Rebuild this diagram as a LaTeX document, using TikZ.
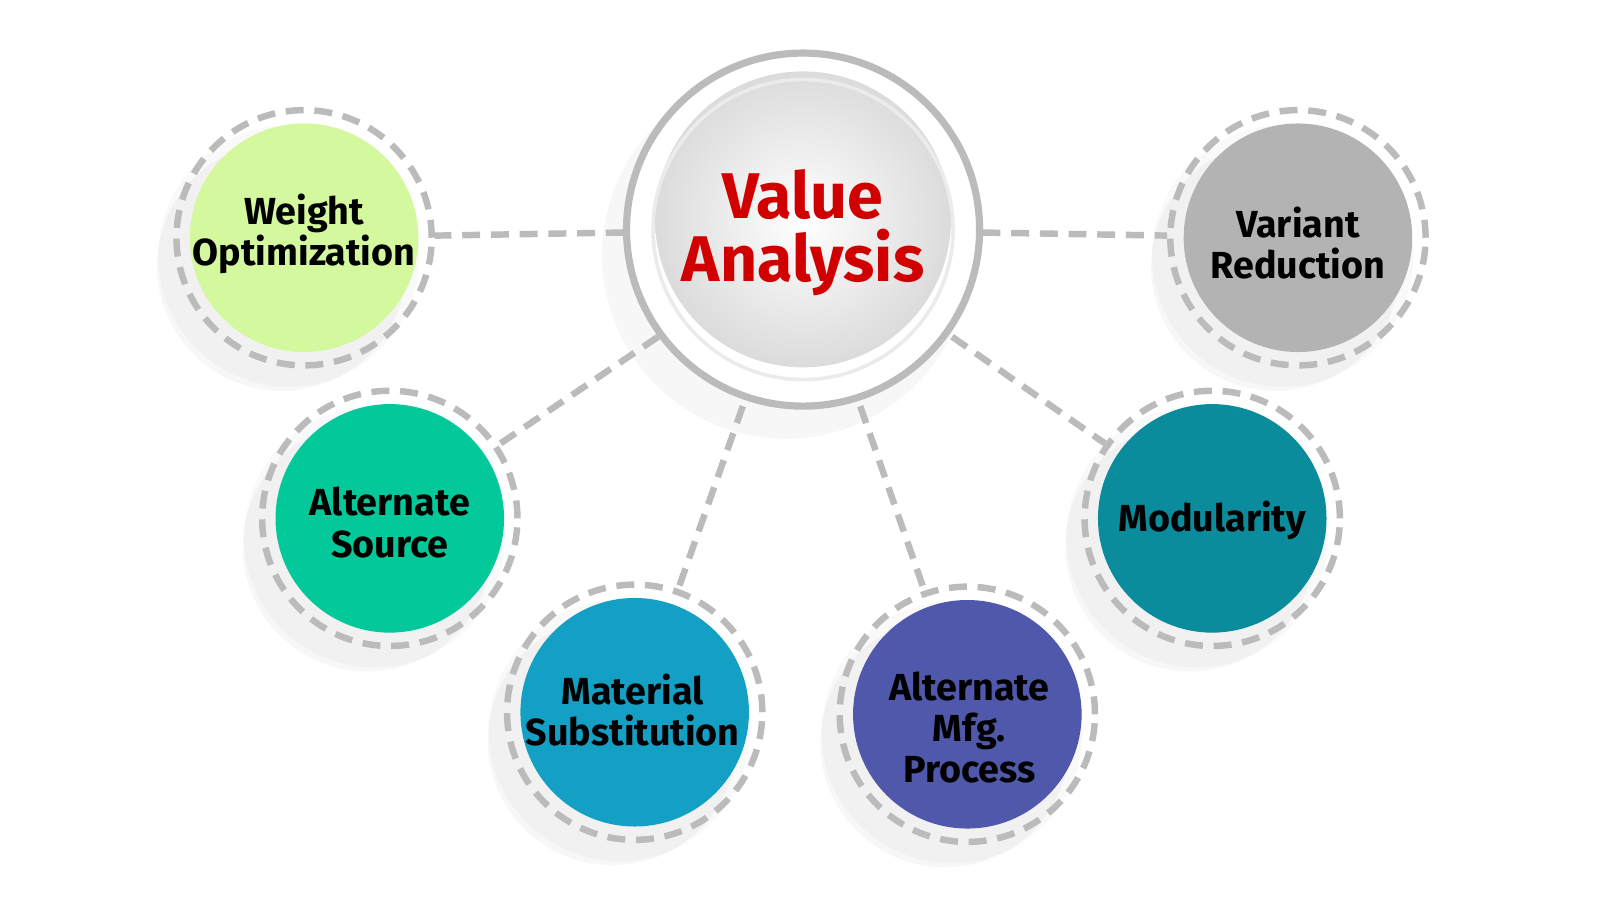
\documentclass[tikz,border=0pt]{standalone}
\usepackage{fontspec}
\setmainfont{Fira Sans}
\begin{document}
\begin{tikzpicture}[x=0.01cm,y=-0.01cm,
  ring/.style={circle,draw=dashc,line width=1.8pt,dash pattern=on 5pt off 3pt,inner sep=0pt},
  conn/.style={draw=dashc,line width=1.8pt,dash pattern=on 5pt off 3pt},
  lab/.style={font=\bfseries\fontsize{10.5}{11.5}\selectfont,align=center,text=black}]
\definecolor{dashc}{HTML}{BBBBBB}
\definecolor{colw}{HTML}{D4F89E}
\definecolor{colv}{HTML}{B3B3B3}
\definecolor{cola}{HTML}{03C99A}
\definecolor{colm}{HTML}{0A8C9C}
\definecolor{cols}{HTML}{14A0C4}
\definecolor{colp}{HTML}{4F58AA}
\definecolor{vr}{HTML}{D10000}
\useasboundingbox[fill=white] (0,0) rectangle (1568,882);
% shadows
\foreach \p in {(298,233),(1272,233),(382,508),(1188,508),(622,698),(948,700)}{
  \fill[black,opacity=0.03] \p ++(-22,28) circle (122);
  \fill[black,opacity=0.025] \p ++(-15,18) circle (128);}
\fill[black,opacity=0.03] (770,250) circle (180);
% center
\node[circle,minimum size=3.5cm,inner sep=0pt] (c) at (787,225) {};
\fill[white] (c.center) circle (173);
\draw[draw=dashc,line width=2pt] (c.center) circle (173);
\shade[inner color=white,outer color=black!14] (787,215) circle (145);
\draw[black!8,line width=1pt] (787,225) circle (147);
\node[font=\bfseries\fontsize{18}{17.5}\selectfont,text=vr,align=center] (ct) at (787,228) {Value\\Analysis};
% satellites
\foreach \n/\p/\c in {w/{(298,233)}/colw,v/{(1272,233)}/colv,a/{(382,508)}/cola,m/{(1188,508)}/colm,s/{(622,698)}/cols,p/{(948,700)}/colp}{
  \fill[\c] \p circle (112);
  \node[ring,minimum size=2.5cm] (\n) at \p {};
}
\node[lab] at (298,229) {Weight\\Optimization};
\node[lab] at (1272,238) {Variant\\Reduction};
\node[lab] at (382,512) {Alternate\\Source};
\node[lab] at (1188,510) {Modularity};
\node[lab] at (620,696) {Material\\Substitution};
\node[lab] at (950,713) {Alternate\\Mfg.\\Process};
% connectors
\path[conn] (c) -- (w);
\path[conn] (c) -- (v);
\path[conn] (645,330) -- (a);
\path[conn] (933,330) -- (m);
\path[conn] (728,398) -- (s);
\path[conn] (843,398) -- (p);
\end{tikzpicture}
\end{document}
